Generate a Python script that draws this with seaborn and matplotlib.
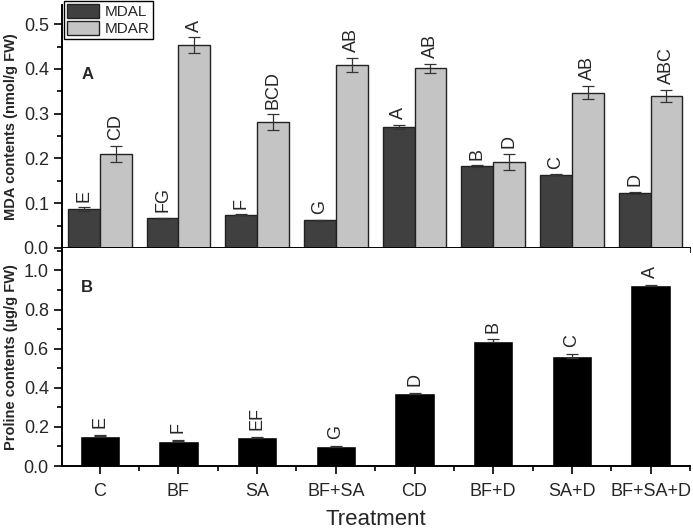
import numpy as np
import pandas as pd
import matplotlib
matplotlib.use("Agg")
import matplotlib.pyplot as plt
from matplotlib.ticker import MultipleLocator, FixedLocator
import seaborn as sns

treatments = ["C", "BF", "SA", "BF+SA", "CD", "BF+D", "SA+D", "BF+SA+D"]
mdal = [0.087, 0.066, 0.074, 0.062, 0.270, 0.183, 0.164, 0.123]
mdal_err = [0.004, 0.002, 0.001, 0.001, 0.005, 0.002, 0.001, 0.003]
mdal_letters = ["E", "FG", "F", "G", "A", "B", "C", "D"]
mdar = [0.210, 0.453, 0.281, 0.409, 0.401, 0.192, 0.347, 0.340]
mdar_err = [0.018, 0.018, 0.018, 0.016, 0.011, 0.018, 0.015, 0.013]
mdar_letters = ["CD", "A", "BCD", "AB", "AB", "D", "AB", "ABC"]
proline = [0.155, 0.130, 0.146, 0.100, 0.371, 0.641, 0.562, 0.924]
proline_err = [0.003, 0.002, 0.002, 0.002, 0.004, 0.006, 0.012, 0.003]
proline_letters = ["E", "F", "EF", "G", "D", "B", "C", "A"]

sns.set_theme(style="ticks")
plt.rcParams['font.family'] = ['Liberation Sans', 'DejaVu Sans']

fig = plt.figure(figsize=(6.93, 5.31), dpi=100)
ax1 = fig.add_axes([0.0895, 0.533, 0.906, 0.457])
ax2 = fig.add_axes([0.0895, 0.1224, 0.906, 0.4106])

df_top = pd.DataFrame({
    "Treatment": treatments * 2,
    "value": mdal + mdar,
    "Series": ["MDAL"] * len(treatments) + ["MDAR"] * len(treatments),
})
sns.barplot(data=df_top, x="Treatment", y="value", hue="Series", order=treatments,
            hue_order=["MDAL", "MDAR"], palette=["#404040", "#c4c4c4"],
            errorbar=None, width=0.81, edgecolor="#222222", linewidth=1.0,
            ax=ax1, legend=True)

top_containers = list(ax1.containers)
series_vals = [(mdal, mdal_err, mdal_letters), (mdar, mdar_err, mdar_letters)]
for cont, (vals, errs, lets) in zip(top_containers, series_vals):
    for p, v, e, l in zip(cont.patches, vals, errs, lets):
        cx = p.get_x() + p.get_width() / 2
        ax1.errorbar(cx, v, yerr=e, fmt="none", ecolor="#333333", elinewidth=0.9,
                     capsize=4, capthick=0.9)
        ax1.annotate(l, (cx, v + e), xytext=(0, 4), textcoords="offset points",
                     rotation=90, ha="center", va="bottom", fontsize=13)

ax1.set_xlim(-0.48, 7.5)
ax1.set_ylim(0, 0.542)
ax1.yaxis.set_major_locator(MultipleLocator(0.1))
ax1.yaxis.set_minor_locator(MultipleLocator(0.05))
ax1.set_xticks(range(len(treatments)))
ax1.set_xticklabels([])
ax1.xaxis.set_minor_locator(FixedLocator(np.arange(0.5, 7.6, 1.0)))
ax1.set_xlabel("")
ax1.set_ylabel("MDA contents (nmol/g FW)", fontsize=10.5, fontweight="bold", labelpad=4)
ax1.text(0.031, 0.716, "A", transform=ax1.transAxes, fontsize=12, fontweight="bold",
         va="center", ha="left")
leg = ax1.legend(loc="upper left", bbox_to_anchor=(0.0, 1.025), frameon=True,
                 fontsize=11, fancybox=False, edgecolor="black", framealpha=1,
                 handlelength=2.1, handleheight=1.0, borderpad=0.2, labelspacing=0.15,
                 handletextpad=0.4, borderaxespad=0.1)
leg.get_frame().set_linewidth(1.0)

df_bot = pd.DataFrame({"Treatment": treatments, "value": proline})
sns.barplot(data=df_bot, x="Treatment", y="value", order=treatments, color="black",
            errorbar=None, width=0.51, ax=ax2)
bot_patches = list(ax2.containers[0].patches)
for p, v, e, l in zip(bot_patches, proline, proline_err, proline_letters):
    cx = p.get_x() + p.get_width() / 2
    ax2.errorbar(cx, v, yerr=e, fmt="none", ecolor="#333333", elinewidth=0.9,
                 capsize=4, capthick=0.9)
    ax2.annotate(l, (cx, v + e), xytext=(0, 5), textcoords="offset points",
                 rotation=90, ha="center", va="bottom", fontsize=13)

ax2.set_xlim(-0.48, 7.5)
ax2.set_ylim(0, 1.115)
ax2.yaxis.set_major_locator(MultipleLocator(0.2))
ax2.yaxis.set_minor_locator(MultipleLocator(0.1))
ax2.xaxis.set_minor_locator(FixedLocator(np.arange(0.5, 7.6, 1.0)))
ax2.set_xlabel("Treatment", fontsize=16, labelpad=7)
ax2.set_ylabel("Proline contents (µg/g FW)", fontsize=10.5, fontweight="bold", labelpad=4)
ax2.text(0.030, 0.817, "B", transform=ax2.transAxes, fontsize=12, fontweight="bold",
         va="center", ha="left")

for ax in (ax1, ax2):
    sns.despine(ax=ax)
    for s in ("left", "bottom"):
        ax.spines[s].set_linewidth(1.4)
        ax.spines[s].set_color("black")
    ax.tick_params(axis="both", which="major", length=6, width=1.2, labelsize=13,
                   direction="out", color="black")
    ax.tick_params(axis="both", which="minor", length=3.5, width=1.2, direction="out",
                   color="black")
    ax.tick_params(axis="x", which="major", pad=6)

fig.savefig("out.png", dpi=100)
